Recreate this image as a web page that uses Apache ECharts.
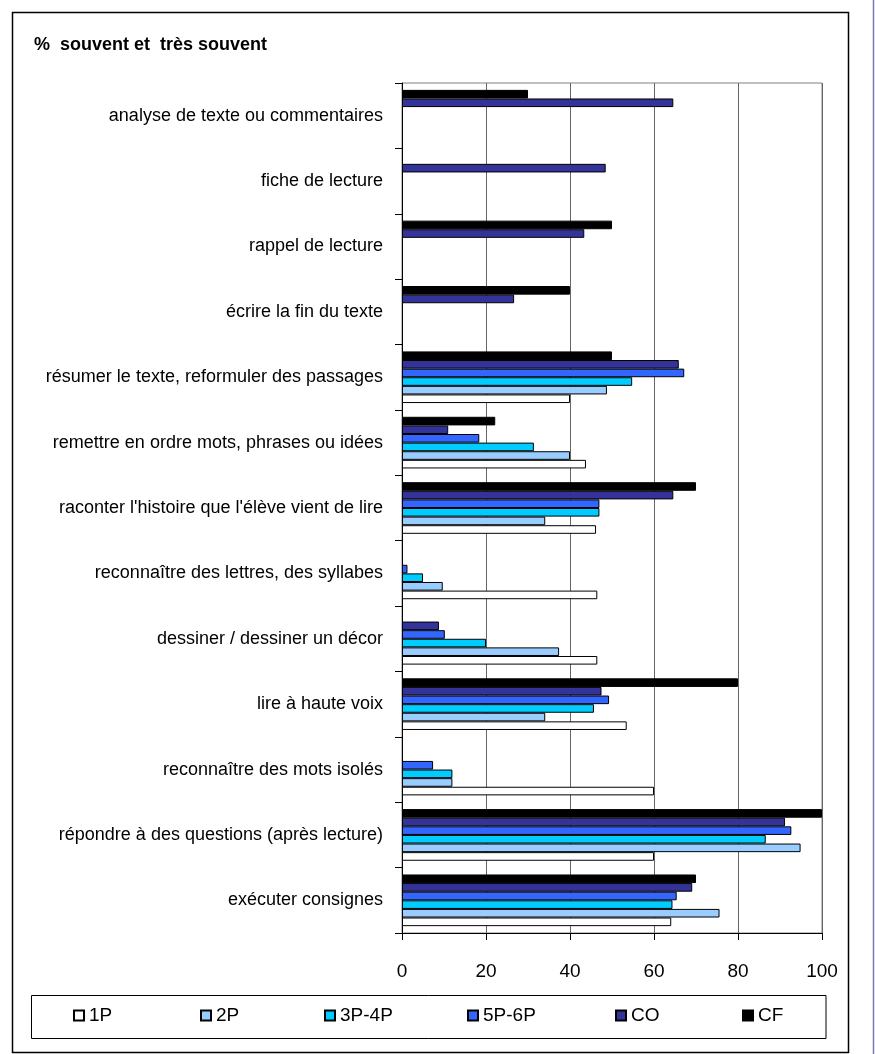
<!DOCTYPE html>
<html>
<head>
<meta charset="utf-8">
<script src="https://cdn.jsdelivr.net/npm/echarts@6/dist/echarts.min.js"></script>
<style>
  html, body { margin: 0; padding: 0; background: #fff; }
  #chart { width: 875px; height: 1054px; }
</style>
</head>
<body>
<div id="chart"></div>
<script>
// Activities, listed from top to bottom
const categories = [
  'analyse de texte ou commentaires',
  'fiche de lecture',
  'rappel de lecture',
  'écrire la fin du texte',
  'résumer le texte, reformuler des passages',
  'remettre en ordre mots, phrases ou idées',
  "raconter l'histoire que l'élève vient de lire",
  'reconnaître des lettres, des syllabes',
  'dessiner / dessiner un décor',
  'lire à haute voix',
  'reconnaître des mots isolés',
  'répondre à des questions (après lecture)',
  'exécuter consignes'
];

// % "souvent" + "très souvent" per school level (null = no answer)
const p1  = [null, null, null, null, 40,   43.8, 46.2, 46.5, 46.5, 53.5, 60,   60,   64.1];
const p2  = [null, null, null, null, 48.8, 40,   34.1, 9.7,  37.4, 34.1, 12,   94.9, 75.6];
const p34 = [null, null, null, null, 54.8, 31.4, 47,   5,    20,   45.7, 12,   86.6, 64.4];
const p56 = [null, null, null, null, 67.2, 18.4, 47,   1.3,  10.2, 49.3, 7.4,  92.7, 65.4];
const co  = [64.6, 48.5, 43.4, 26.7, 65.9, 11,   64.6, null, 8.8,  47.5, null, 91.2, 69.1];
const cf  = [30,   null, 50,   40,   50,   22.2, 70,   null, null, 80,   null, 100,  70];

const seriesNames = ['1P', '2P', '3P-4P', '5P-6P', 'CO', 'CF'];
const seriesValues = [p1, p2, p34, p56, co, cf];
const seriesColors = ['#FFFFFF', '#99CCFF', '#00CCFF', '#3366FF', '#333399', '#000000'];

const xTicks = [0, 20, 40, 60, 80, 100];

const FONT = '"Liberation Sans", Arial, sans-serif';

const chart = echarts.init(document.getElementById('chart'), null, { renderer: 'canvas' });

// one bar series per level; the last level sits at the top of each group
const series = seriesNames.map((name, i) => ({
  name: name,
  type: 'bar',
  data: seriesValues[i],
  barGap: '0%',
  barCategoryGap: '21%',
  itemStyle: { color: seriesColors[i], borderColor: '#000', borderWidth: 1 },
  emphasis: { disabled: true },
  silent: true
})).reverse();

// legend entries laid out in a single row inside a framed box
const legendLefts = [73, 200, 324, 467, 615, 742];
const legends = seriesNames.map((name, i) => ({
  data: [name],
  left: legendLefts[i],
  top: 1006,
  padding: 0,
  icon: 'rect',
  itemWidth: 10,
  itemHeight: 10,
  selectedMode: false,
  textStyle: { fontFamily: FONT, fontSize: 19, color: '#000' }
}));

const option = {
  animation: false,
  backgroundColor: '#fff',
  title: {
    text: '%  souvent et  très souvent',
    left: 34,
    top: 36,
    padding: 0,
    textStyle: { fontFamily: FONT, fontSize: 18, fontWeight: 'bold', color: '#000' }
  },
  legend: legends,
  grid: {
    left: 402, top: 83, width: 420, height: 850,
    show: true, borderColor: '#808080', borderWidth: 1, backgroundColor: 'transparent'
  },
  xAxis: {
    type: 'value',
    min: xTicks[0],
    max: xTicks[xTicks.length - 1],
    interval: xTicks[1] - xTicks[0],
    axisLine: { show: true, lineStyle: { color: '#000', width: 1 } },
    axisTick: { show: true, length: 7, lineStyle: { color: '#000' } },
    splitLine: { show: true, lineStyle: { color: '#666', width: 1 } },
    axisLabel: { fontFamily: FONT, fontSize: 19, color: '#000', margin: 29 }
  },
  yAxis: {
    type: 'category',
    data: categories,
    inverse: true,
    axisLine: { show: true, lineStyle: { color: '#000', width: 1 } },
    axisTick: { show: true, length: 7, lineStyle: { color: '#000' } },
    splitLine: { show: false },
    axisLabel: { fontFamily: FONT, fontSize: 18, color: '#000', margin: 19 }
  },
  graphic: [
    // outer frame
    { type: 'rect', shape: { x: 12.5, y: 12.5, width: 836, height: 1040 },
      style: { fill: 'none', stroke: '#000', lineWidth: 1.5 }, silent: true, z: -1 },
    // legend frame
    { type: 'rect', shape: { x: 31.5, y: 995.5, width: 794.5, height: 43 },
      style: { fill: 'none', stroke: '#000', lineWidth: 1 }, silent: true },
    // page edge rule
    { type: 'line', shape: { x1: 873.5, y1: 0, x2: 873.5, y2: 1054 },
      style: { stroke: '#7777bb', lineWidth: 1.5 }, silent: true }
  ],
  series: series
};

chart.setOption(option);
</script>
</body>
</html>
